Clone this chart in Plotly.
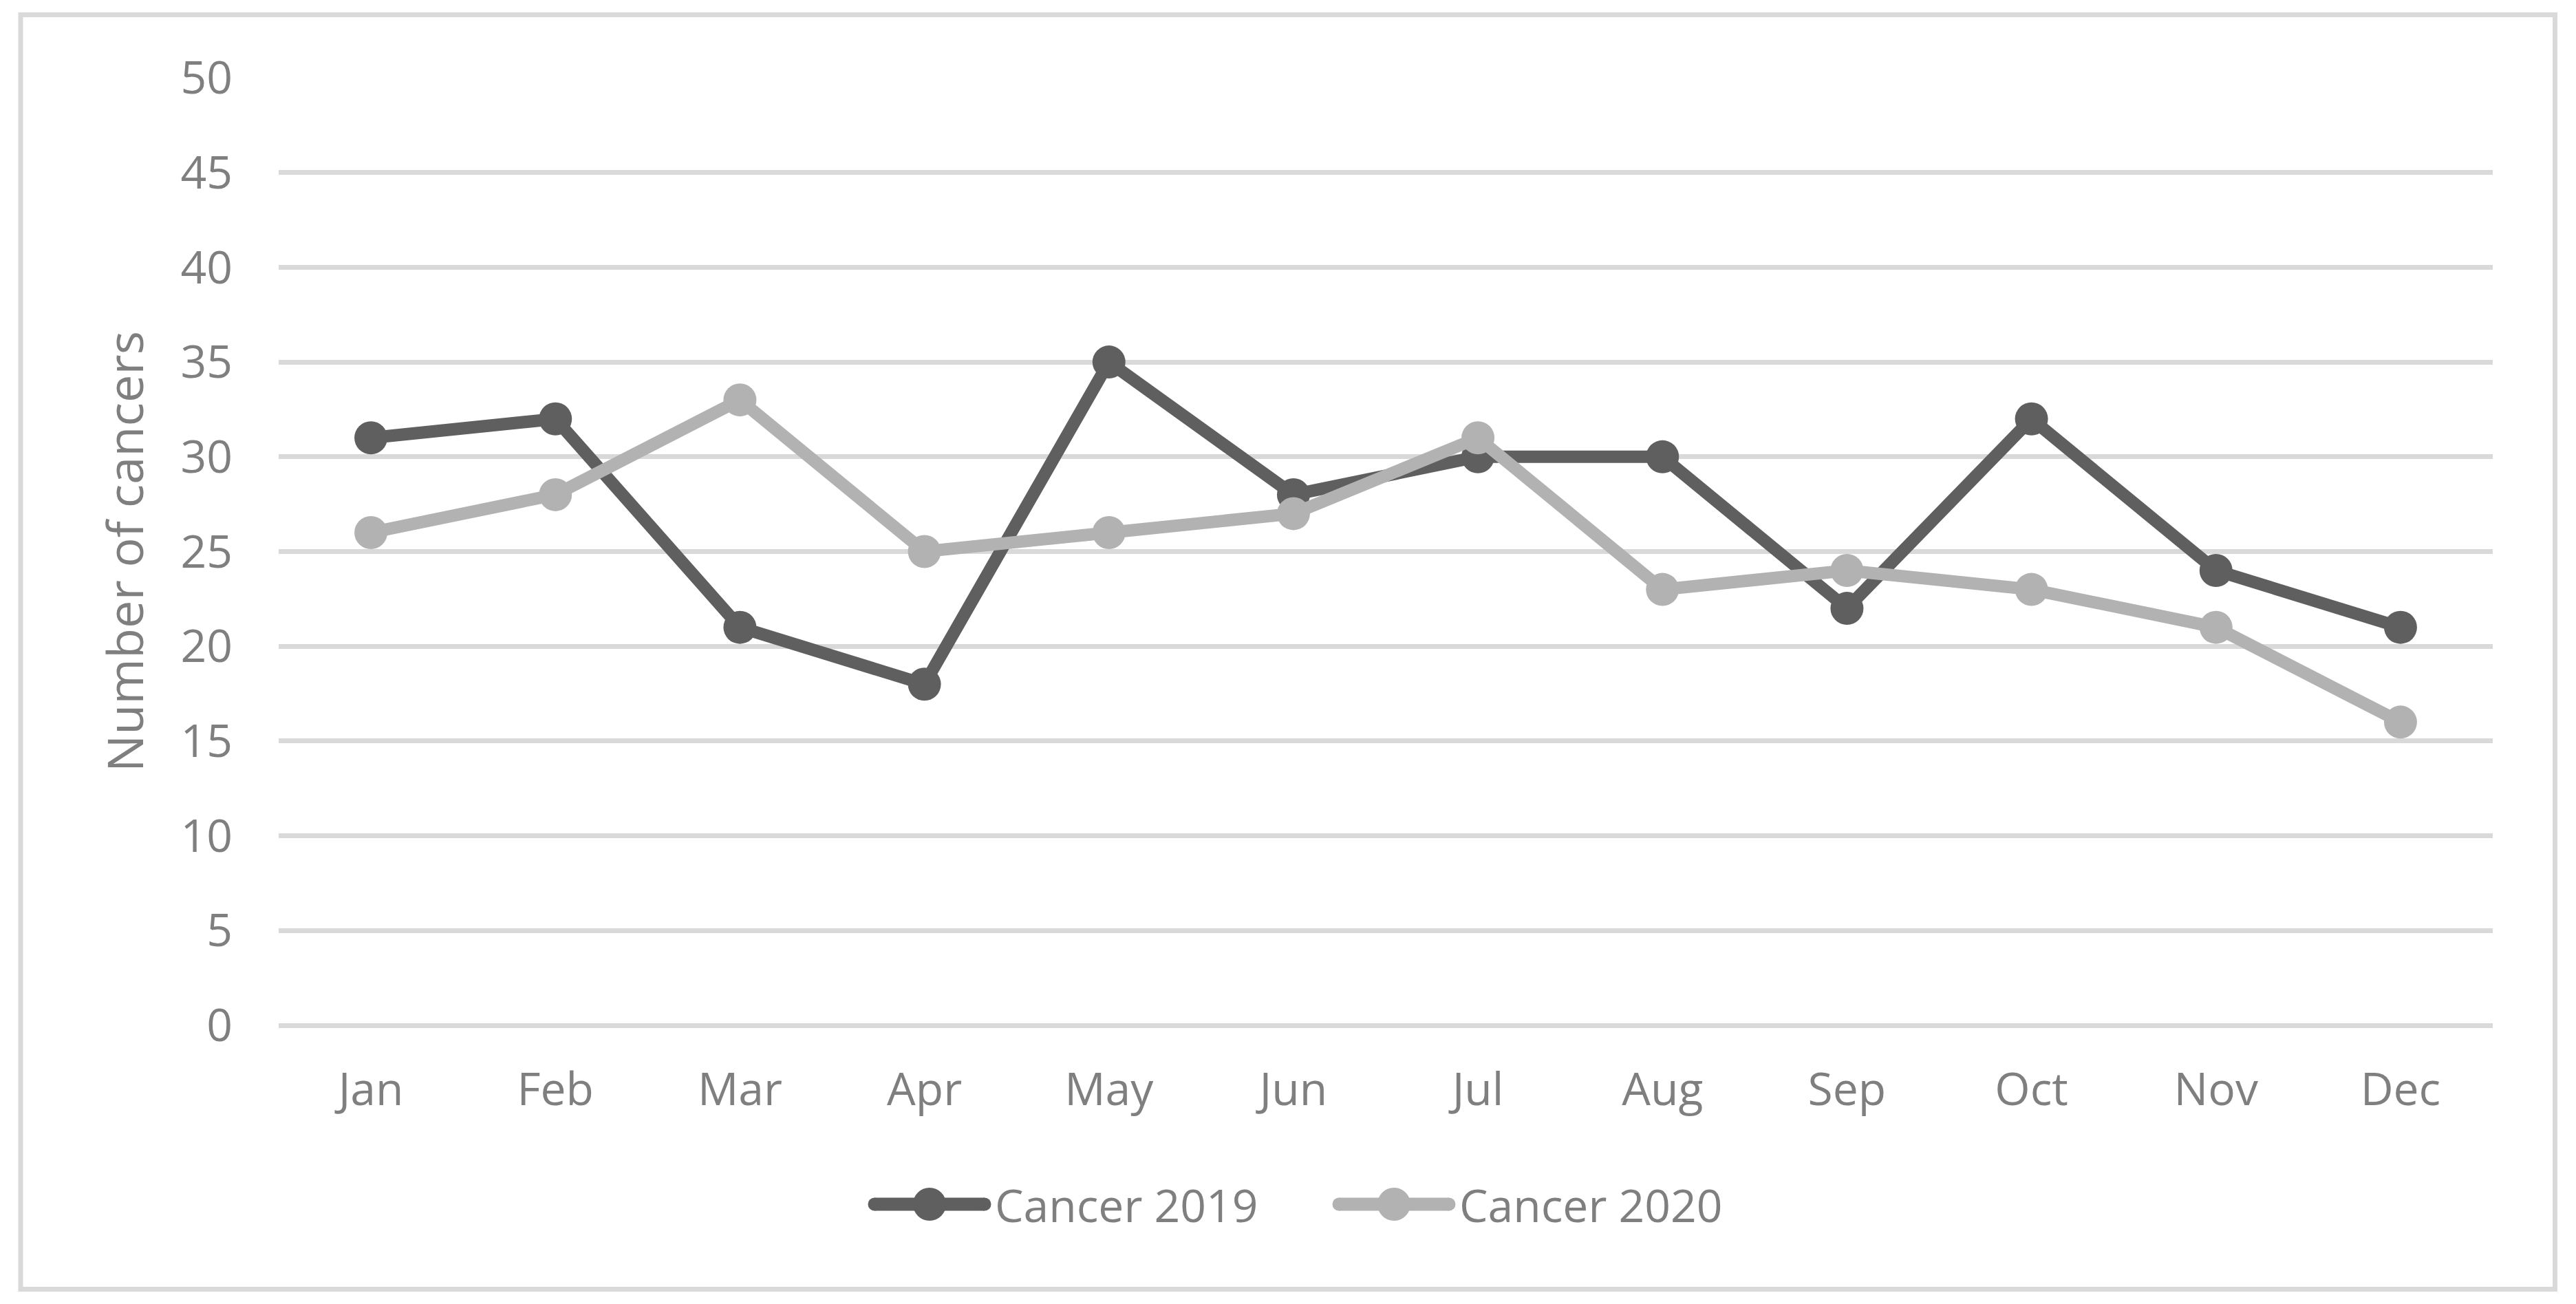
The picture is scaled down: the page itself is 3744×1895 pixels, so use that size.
import plotly.graph_objects as go

months = ["Jan", "Feb", "Mar", "Apr", "May", "Jun", "Jul", "Aug", "Sep", "Oct", "Nov", "Dec"]
cancer_2019 = [31, 32, 21, 18, 35, 28, 30, 30, 22, 32, 24, 21]
cancer_2020 = [26, 28, 33, 25, 26, 27, 31, 23, 24, 23, 21, 16]
series_names = ["Cancer 2019", "Cancer 2020"]
y_ticks = [0, 5, 10, 15, 20, 25, 30, 35, 40, 45, 50]

C19 = "#5f5f5f"
C20 = "#b2b2b2"
TXT = "#7f7f7f"
GRID = "#d9d9d9"
FONT = "Open Sans"

OFF = 8  # page body margin offset
W, H = 3744, 1895
L = 405 - OFF
T = 113 - OFF
R = W - (3623 - OFF)
B = H - (1490 - OFF)
PW = W - L - R
PH = H - T - B

fig = go.Figure()
for name, vals, col in [(series_names[0], cancer_2019, C19), (series_names[1], cancer_2020, C20)]:
    fig.add_trace(go.Scatter(
        x=months, y=vals, name=name, mode="lines+markers",
        line=dict(color=col, width=18),
        marker=dict(color=col, size=48),
        showlegend=False,
    ))

def px_x(px):
    return (px - OFF - L) / PW

def px_y(py):
    return (H - B - (py - OFF)) / PH

shapes = []
shapes.append(dict(type="rect", xref="paper", yref="paper",
                   x0=px_x(30), x1=px_x(3713.5), y0=px_y(1873.5), y1=px_y(21.5),
                   line=dict(color=GRID, width=7), fillcolor="rgba(0,0,0,0)", layer="below"))

def dot(xpx, ypaper, r, col):
    return dict(type="circle", xref="paper", yref="paper",
                xsizemode="pixel", ysizemode="pixel",
                xanchor=px_x(xpx), yanchor=ypaper,
                x0=-r, x1=r, y0=-r, y1=r,
                fillcolor=col, line=dict(color=col, width=0))

annotations = []
legend_items = [
    (series_names[0], C19, 1271, 1431, 1444),
    (series_names[1], C20, 1946, 2106, 2119),
]
ly = px_y(1750)
for name, col, x0, x1, tx in legend_items:
    shapes.append(dict(type="line", xref="paper", yref="paper",
                       x0=px_x(x0), x1=px_x(x1), y0=ly, y1=ly,
                       line=dict(color=col, width=19)))
    shapes.append(dot(x0, ly, 9.5, col))
    shapes.append(dot(x1, ly, 9.5, col))
    shapes.append(dot((x0 + x1) / 2, ly, 24, col))
    annotations.append(dict(xref="paper", yref="paper", x=px_x(tx), y=ly,
                            xanchor="left", yanchor="middle", showarrow=False,
                            text=name, font=dict(family=FONT, size=66, color=TXT)))

fig.update_layout(
    width=W, height=H,
    margin=dict(l=L, r=R, t=T, b=B, pad=0),
    paper_bgcolor="white", plot_bgcolor="white",
    font=dict(family=FONT, color=TXT, size=66),
    shapes=shapes, annotations=annotations,
    showlegend=False,
    xaxis=dict(
        type="category", range=[-0.5, 11.5], showgrid=False, zeroline=False,
        showline=False, ticks="", ticklabelstandoff=49,
        tickfont=dict(family=FONT, size=66, color=TXT),
    ),
    yaxis=dict(
        range=[0, 50], tickvals=y_ticks, ticktext=[str(v) for v in y_ticks],
        showgrid=True, gridcolor=GRID, gridwidth=7,
        zeroline=True, zerolinecolor=GRID, zerolinewidth=7,
        showline=False, ticks="", ticklabelstandoff=66,
        tickfont=dict(family=FONT, size=66, color=TXT),
        title=dict(text="Number of cancers", standoff=30,
                   font=dict(family=FONT, size=72, color=TXT)),
    ),
)

fig.write_html("out.html")
